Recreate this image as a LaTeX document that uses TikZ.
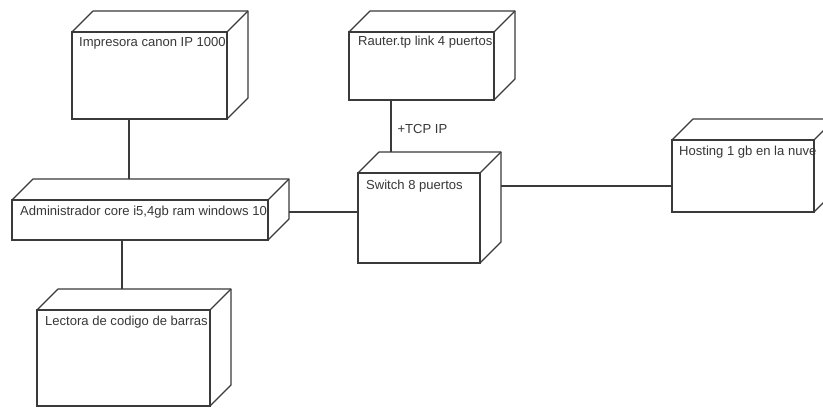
\documentclass[tikz,border=0pt]{standalone}
\usepackage{fontspec}
\setmainfont{Liberation Sans}
\usetikzlibrary{calc}
\definecolor{edgecol}{HTML}{3A3A3A}
\definecolor{txtcol}{HTML}{383838}
\tikzset{
  edgeline/.style={draw=edgecol, line width=1.2bp},
  nodebox/.style={edgeline, fill=white, anchor=north west, inner sep=0pt, outer sep=0pt},
  lbl/.style={text=txtcol, inner sep=0pt, font=\fontsize{13.1}{15}\selectfont},
}
\newcommand\cubeback[1]{%
  \draw[edgeline, line join=round] (#1.north west) -- ++(21,-21) -| ($(#1.south east)+(21,-21)$) -- (#1.south east);
  \draw[edgeline] (#1.north east) -- ++(21,-21);}
\begin{document}
\begin{tikzpicture}[x=1bp, y=-1bp]
\clip (0,0) rectangle (823,407);
\fill[white] (0,0) rectangle (823,407);
% boxes
\node[nodebox, minimum width=155bp, minimum height=87bp] (imp) at (72,32) {};
\node[nodebox, minimum width=256bp, minimum height=40bp] (adm) at (12,200) {};
\node[nodebox, minimum width=173bp, minimum height=96bp] (lec) at (37,310) {};
\node[nodebox, minimum width=145bp, minimum height=68bp] (rou) at (349,32) {};
\node[nodebox, minimum width=122bp, minimum height=90bp] (sw) at (358,173) {};
\node[nodebox, minimum width=142bp, minimum height=72bp] (host) at (672,140) {};
\cubeback{imp}
\cubeback{adm}
\cubeback{lec}
\cubeback{rou}
\cubeback{sw}
\cubeback{host}
% texts
\node[lbl, anchor=west] (impT) at ($(imp.north west)+(7,11)$) {Impresora canon IP 1000};
\node[lbl, anchor=west] (admT) at ($(adm.north west)+(8,12)$) {Administrador core i5,4gb ram windows 10};
\node[lbl, anchor=west] (lecT) at ($(lec.north west)+(8,12)$) {Lectora de codigo de barras};
\node[lbl, anchor=west] (rouT) at ($(rou.north west)+(9,10)$) {Rauter.tp link 4 puertos};
\node[lbl, anchor=west] (swT) at ($(sw.north west)+(8,13)$) {Switch 8 puertos};
\node[lbl, anchor=west] (hostT) at ($(host.north west)+(7,12)$) {Hosting 1 gb en la nuve};
% connectors
\coordinate (c1) at ($(imp.south west)+(57,0)$);
\draw[edgeline] (c1) -- ($(c1 |- adm.north)+(0,-21)$);
\coordinate (c2) at ($(adm.south west)+(110,0)$);
\draw[edgeline] (c2) -- ($(c2 |- lec.north)+(0,-21)$);
\coordinate (c3) at ($(adm.east)+(21,-8)$);
\draw[edgeline] (c3) -- (c3 -| sw.west);
\coordinate (c4) at ($(rou.south west)+(42,0)$);
\draw[edgeline] (c4) -- node[lbl, pos=0.56, anchor=west, xshift=6bp] (tcp) {+TCP IP} ($(c4 |- sw.north)+(0,-21)$);
\coordinate (c5) at ($(sw.east)+(21,-32)$);
\draw[edgeline] (c5) -- (c5 -| host.west);
\end{tikzpicture}
\end{document}
